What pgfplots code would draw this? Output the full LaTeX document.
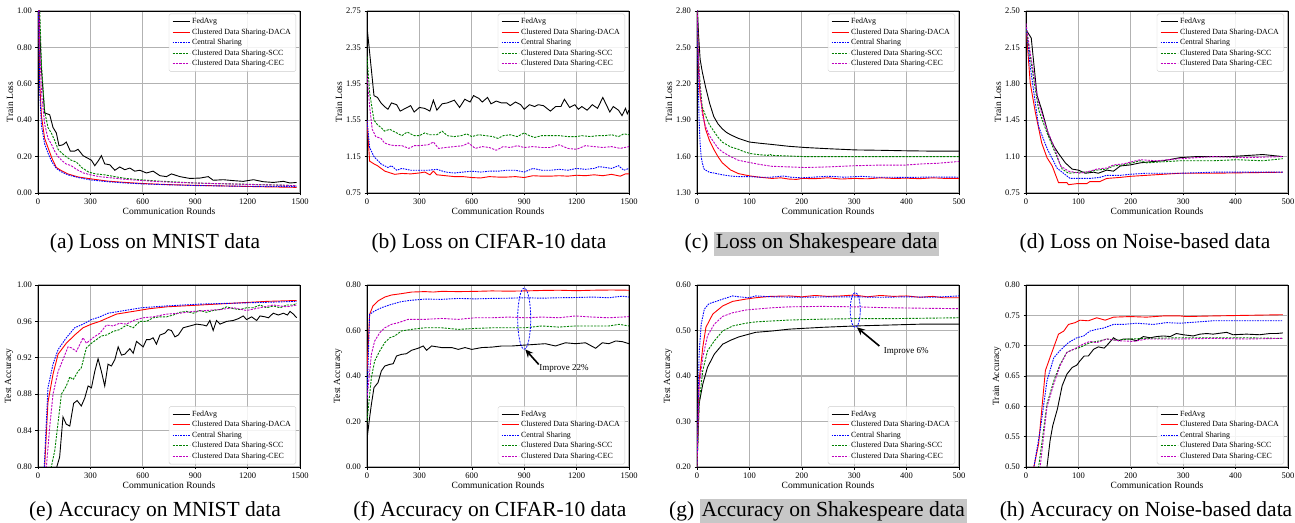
\documentclass[border=0pt]{standalone}
\usepackage{fontspec}
\setmainfont{Liberation Serif}
\usepackage{pgfplots}
\pgfplotsset{compat=1.18}
\usetikzlibrary{arrows.meta}
\definecolor{mplgreen}{RGB}{0,128,0}
\definecolor{mplmag}{RGB}{191,0,191}
\tikzset{
  sFed/.style={draw=black, line width=0.9pt},
  sDACA/.style={draw=red, line width=0.9pt},
  sCen/.style={draw=blue, line width=0.9pt, dash pattern=on 1.6pt off 1pt},
  sSCC/.style={draw=mplgreen, line width=0.9pt, dash pattern=on 2.2pt off 1.2pt},
  sCEC/.style={draw=mplmag, line width=0.9pt, dash pattern=on 2.2pt off 1.2pt},
}
\pgfplotsset{
  base/.style={scale only axis, width=262pt, height=182pt, no marks,
    grid=major, major grid style={draw=black!30, line width=1.1pt},
    axis line style={line width=0.7pt}, tick style={black, line width=0.6pt},
    tick align=outside, tick pos=left, major tick length=2.5pt,
    ticklabel style={font=\fontsize{8.5}{9}\selectfont},
    /pgf/number format/assume math mode=true,
    label style={font=\fontsize{9.5}{10}\selectfont},
    xlabel={Communication Rounds}, xlabel style={yshift=4pt}, ylabel style={yshift=-3pt},
    scaled ticks=false,
    xticklabel style={/pgf/number format/set thousands separator={}},
    yticklabel style={/pgf/number format/fixed, /pgf/number format/fixed zerofill, /pgf/number format/precision=2},
    legend cell align=left,
    legend image code/.code={\draw[#1, line width=1.1pt] (0pt,0pt) -- (17pt,0pt);},
    legend style={font=\fontsize{7.9}{8.5}\selectfont, draw=black!20, rounded corners=1.5pt, fill=white, fill opacity=0.85, text opacity=1, inner xsep=3pt, inner ysep=2.5pt, row sep=-0.6pt}},
  long/.style={xmin=0, xmax=1500, xtick={0,300,...,1500}},
  short/.style={xmin=0, xmax=500, xtick={0,100,...,500}},
  legTop/.style={legend style={at={(0.985,0.985)}, anchor=north east}},
  legBot/.style={legend style={at={(0.985,0.015)}, anchor=south east}},
}
\newcommand{\legs}{\legend{FedAvg, Clustered Data Sharing-DACA, Central Sharing, Clustered Data Sharing-SCC, Clustered Data Sharing-CEC}}
\begin{document}
\begin{tikzpicture}
\useasboundingbox (0,0) rectangle (1295pt,522pt);
% (a)
\begin{axis}[base, long, legTop, at={(38pt,329pt)}, anchor=south west, ymin=0, ymax=1, ytick={0,0.2,...,1.0}, ylabel={Train Loss}]
\addplot[sFed] coordinates {(0,1.4)(10,0.9)(19,0.69)(38,0.44)(67,0.43)(86,0.36)(105,0.33)(120,0.26)(143,0.265)(162,0.28)(185,0.23)(210,0.23)(229,0.24)(258,0.205)(287,0.19)(306,0.18)(325,0.15)(344,0.175)(363,0.205)(382,0.16)(411,0.155)(440,0.125)(468,0.143)(497,0.128)(526,0.137)(554,0.12)(583,0.125)(621,0.11)(659,0.12)(698,0.095)(736,0.09)(764,0.105)(812,0.09)(869,0.08)(927,0.082)(975,0.09)(1003,0.07)(1061,0.073)(1118,0.068)(1175,0.064)(1233,0.073)(1290,0.062)(1347,0.058)(1405,0.064)(1443,0.055)(1481,0.058)};
\addplot[sDACA] coordinates {(0,1.3)(10,0.6)(20,0.42)(38,0.3)(57,0.25)(80,0.19)(105,0.14)(130,0.125)(170,0.105)(230,0.088)(300,0.078)(400,0.065)(500,0.058)(600,0.052)(750,0.046)(900,0.042)(1100,0.038)(1300,0.034)(1480,0.031)};
\addplot[sCen] coordinates {(0,1.2)(10,0.55)(20,0.37)(38,0.27)(57,0.22)(80,0.17)(105,0.135)(130,0.118)(170,0.1)(230,0.085)(300,0.072)(400,0.062)(500,0.055)(600,0.05)(750,0.045)(900,0.041)(1100,0.038)(1300,0.036)(1480,0.035)};
\addplot[sSCC] coordinates {(0,1.5)(10,1.0)(20,0.7)(38,0.45)(57,0.36)(76,0.33)(95,0.29)(115,0.24)(135,0.22)(160,0.2)(190,0.18)(220,0.17)(250,0.14)(290,0.115)(330,0.105)(380,0.1)(440,0.09)(500,0.08)(560,0.075)(620,0.07)(700,0.065)(800,0.06)(900,0.055)(1000,0.052)(1100,0.05)(1200,0.048)(1300,0.045)(1400,0.043)(1480,0.04)};
\addplot[sCEC] coordinates {(0,1.4)(10,0.8)(20,0.55)(38,0.38)(57,0.3)(76,0.27)(95,0.23)(115,0.2)(135,0.18)(160,0.16)(190,0.15)(220,0.13)(240,0.12)(260,0.11)(300,0.1)(350,0.09)(400,0.085)(500,0.075)(600,0.068)(700,0.062)(800,0.058)(900,0.055)(1000,0.052)(1100,0.05)(1200,0.047)(1300,0.045)(1400,0.043)(1480,0.04)};
\legs
\end{axis}
% (b)
\begin{axis}[base, long, legTop, at={(367pt,329pt)}, anchor=south west, ymin=0.75, ymax=2.75, ytick={0.75,1.15,1.55,1.95,2.35,2.75}, ylabel={Train Loss}]
\addplot[sFed] coordinates {(0,2.58)(20,2.2)(40,1.82)(60,1.8)(80,1.74)(100,1.7)(120,1.67)(140,1.74)(170,1.72)(190,1.65)(220,1.68)(250,1.71)(270,1.64)(300,1.69)(330,1.68)(360,1.65)(380,1.77)(400,1.66)(430,1.73)(460,1.74)(500,1.77)(530,1.69)(560,1.78)(590,1.75)(610,1.82)(640,1.79)(660,1.75)(690,1.8)(710,1.73)(740,1.76)(770,1.74)(800,1.74)(820,1.71)(850,1.75)(880,1.72)(900,1.67)(930,1.72)(960,1.7)(980,1.72)(1010,1.71)(1050,1.65)(1080,1.7)(1110,1.7)(1130,1.78)(1160,1.69)(1190,1.72)(1210,1.67)(1230,1.7)(1260,1.66)(1290,1.72)(1320,1.68)(1350,1.8)(1370,1.72)(1390,1.64)(1410,1.7)(1440,1.66)(1460,1.6)(1480,1.68)(1490,1.62)(1500,1.66)};
\addplot[sDACA] coordinates {(0,1.55)(15,1.1)(40,1.07)(60,1.05)(102,0.99)(159,0.955)(200,0.965)(250,0.96)(300,0.97)(331,0.98)(360,0.95)(380,0.99)(400,0.95)(450,0.94)(500,0.93)(550,0.93)(600,0.92)(650,0.915)(700,0.93)(750,0.925)(800,0.925)(850,0.93)(900,0.92)(950,0.94)(1000,0.935)(1050,0.935)(1100,0.94)(1150,0.935)(1200,0.945)(1250,0.94)(1300,0.95)(1350,0.94)(1400,0.955)(1450,0.935)(1480,0.96)(1500,0.96)};
\addplot[sCen] coordinates {(0,1.55)(15,1.25)(40,1.15)(80,1.07)(120,1.03)(140,1.05)(170,1.0)(200,1.02)(250,1.0)(300,1.0)(350,1.0)(400,1.01)(450,0.98)(500,0.97)(550,0.98)(600,0.99)(650,0.98)(700,0.99)(750,0.99)(800,1.0)(850,1.0)(900,0.98)(950,1.02)(1000,1.0)(1050,1.0)(1100,1.01)(1150,1.0)(1200,1.02)(1250,1.01)(1300,1.02)(1330,1.04)(1400,1.02)(1440,1.05)(1470,1.0)(1500,1.02)};
\addplot[sSCC] coordinates {(0,2.25)(15,1.85)(40,1.55)(60,1.5)(80,1.47)(100,1.43)(130,1.45)(160,1.42)(200,1.38)(230,1.42)(270,1.38)(300,1.38)(330,1.41)(360,1.39)(400,1.39)(430,1.43)(460,1.38)(500,1.37)(540,1.38)(570,1.4)(600,1.37)(640,1.39)(680,1.38)(720,1.37)(750,1.35)(780,1.38)(820,1.39)(860,1.37)(900,1.41)(930,1.38)(960,1.36)(1000,1.38)(1050,1.38)(1100,1.38)(1150,1.37)(1200,1.37)(1230,1.38)(1280,1.37)(1320,1.38)(1360,1.38)(1400,1.39)(1440,1.37)(1470,1.4)(1500,1.39)};
\addplot[sCEC] coordinates {(0,2.05)(15,1.7)(30,1.45)(50,1.37)(80,1.35)(100,1.3)(130,1.28)(160,1.27)(200,1.27)(240,1.24)(270,1.27)(300,1.27)(350,1.28)(380,1.31)(410,1.24)(450,1.25)(500,1.26)(550,1.27)(580,1.3)(620,1.24)(660,1.26)(700,1.25)(740,1.22)(780,1.26)(820,1.25)(860,1.27)(900,1.25)(950,1.26)(1000,1.25)(1050,1.25)(1100,1.28)(1150,1.24)(1200,1.23)(1250,1.27)(1300,1.26)(1350,1.25)(1400,1.26)(1450,1.24)(1500,1.26)};
\legs
\end{axis}
% (c)
\begin{axis}[base, short, legTop, at={(697pt,329pt)}, anchor=south west, ymin=1.3, ymax=2.8, ytick={1.3,1.6,...,2.81}, ylabel={Train Loss}]
\addplot[sFed] coordinates {(0,2.9)(3,2.6)(6,2.4)(10,2.3)(16,2.18)(24,2.04)(32,1.93)(40,1.87)(48,1.83)(56,1.8)(64,1.78)(79,1.75)(100,1.72)(120,1.71)(143,1.70)(175,1.685)(206,1.675)(250,1.665)(302,1.655)(350,1.652)(397,1.648)(450,1.645)(500,1.645)};
\addplot[sDACA] coordinates {(0,2.85)(3,2.3)(6,2.1)(10,1.99)(16,1.83)(24,1.73)(32,1.66)(40,1.6)(48,1.55)(56,1.52)(64,1.49)(79,1.46)(90,1.45)(102,1.44)(120,1.43)(143,1.42)(160,1.425)(175,1.415)(190,1.412)(200,1.42)(225,1.418)(250,1.425)(275,1.415)(300,1.42)(325,1.417)(350,1.425)(375,1.42)(400,1.422)(425,1.418)(450,1.425)(475,1.42)(500,1.42)};
\addplot[sCen] coordinates {(0,2.85)(2,2.3)(4,1.9)(6,1.7)(8,1.6)(10,1.55)(13,1.5)(16,1.49)(24,1.47)(32,1.465)(48,1.45)(64,1.44)(79,1.435)(100,1.435)(120,1.43)(140,1.43)(165,1.44)(180,1.43)(200,1.425)(220,1.43)(250,1.438)(265,1.435)(280,1.43)(315,1.437)(340,1.43)(370,1.43)(400,1.428)(450,1.432)(500,1.43)};
\addplot[sSCC] coordinates {(0,2.85)(3,2.4)(6,2.2)(10,2.01)(16,1.94)(24,1.86)(32,1.81)(40,1.76)(48,1.72)(56,1.70)(64,1.68)(79,1.66)(90,1.64)(102,1.625)(120,1.615)(136,1.61)(139,1.62)(143,1.61)(175,1.605)(206,1.6)(250,1.6)(300,1.6)(400,1.6)(500,1.6)};
\addplot[sCEC] coordinates {(0,2.85)(3,2.4)(6,2.15)(10,1.95)(16,1.85)(24,1.77)(32,1.72)(40,1.67)(48,1.64)(64,1.6)(79,1.57)(90,1.56)(102,1.55)(120,1.535)(143,1.52)(175,1.515)(206,1.51)(250,1.515)(302,1.525)(350,1.53)(397,1.53)(430,1.54)(460,1.545)(500,1.56)};
\legs
\end{axis}
% (d)
\begin{axis}[base, short, legTop, at={(1026pt,329pt)}, anchor=south west, ymin=0.75, ymax=2.5, ytick={0.75,1.10,1.45,1.80,2.15,2.50}, ylabel={Train Loss}]
\addplot[sFed] coordinates {(0,2.32)(10,2.24)(21,1.69)(30,1.55)(43,1.31)(53,1.20)(62,1.13)(75,1.04)(88,0.98)(100,0.97)(113,0.94)(129,0.95)(138,0.94)(154,0.97)(167,0.96)(180,1.01)(199,1.02)(218,1.04)(237,1.05)(262,1.06)(294,1.09)(325,1.10)(357,1.10)(389,1.10)(421,1.11)(452,1.12)(490,1.10)};
\addplot[sDACA] coordinates {(0,2.35)(8,1.81)(18,1.52)(30,1.23)(40,1.09)(50,1.01)(62,0.85)(78,0.85)(81,0.83)(97,0.84)(116,0.84)(122,0.86)(141,0.86)(154,0.89)(180,0.90)(199,0.91)(230,0.92)(294,0.94)(357,0.94)(490,0.95)};
\addplot[sCen] coordinates {(0,2.35)(8,1.97)(24,1.39)(40,1.18)(59,0.99)(84,0.89)(103,0.89)(122,0.89)(141,0.90)(154,0.92)(180,0.92)(199,0.93)(230,0.94)(294,0.94)(357,0.95)(490,0.95)};
\addplot[sSCC] coordinates {(0,2.35)(8,2.06)(24,1.55)(40,1.33)(53,1.17)(69,0.98)(81,0.94)(103,0.95)(116,0.95)(135,0.97)(154,0.98)(167,1.01)(186,1.02)(218,1.06)(230,1.04)(262,1.05)(294,1.06)(325,1.06)(357,1.06)(402,1.07)(452,1.06)(490,1.08)};
\addplot[sCEC] coordinates {(0,2.38)(8,2.1)(24,1.61)(40,1.36)(53,1.20)(66,1.01)(81,0.96)(103,0.94)(122,0.96)(135,0.98)(154,0.99)(167,1.02)(186,1.03)(218,1.07)(249,1.06)(294,1.08)(357,1.10)(421,1.09)(490,1.10)};
\legs
\end{axis}
% (e)
\begin{axis}[base, long, legBot, at={(38pt,55pt)}, anchor=south west, ymin=0.8, ymax=1.0, ytick={0.80,0.84,...,1.01}, ylabel={Test Accuracy}]
\addplot[sFed] coordinates {(0,0.6)(50,0.75)(100,0.795)(124,0.811)(143,0.855)(162,0.847)(182,0.845)(204,0.870)(224,0.873)(248,0.867)(268,0.876)(287,0.889)(306,0.887)(325,0.905)(344,0.919)(363,0.905)(382,0.889)(401,0.913)(420,0.911)(440,0.918)(459,0.932)(478,0.923)(497,0.924)(526,0.930)(545,0.925)(564,0.938)(583,0.935)(602,0.932)(621,0.94)(640,0.94)(659,0.942)(678,0.935)(698,0.945)(726,0.947)(745,0.951)(764,0.950)(784,0.943)(803,0.945)(831,0.953)(870,0.955)(908,0.957)(946,0.956)(965,0.955)(984,0.961)(1003,0.950)(1022,0.961)(1042,0.957)(1080,0.960)(1118,0.961)(1147,0.963)(1175,0.966)(1194,0.962)(1223,0.965)(1252,0.961)(1271,0.966)(1300,0.965)(1319,0.964)(1347,0.969)(1376,0.967)(1405,0.969)(1428,0.967)(1443,0.971)(1462,0.968)(1481,0.964)};
\addplot[sDACA] coordinates {(0,0.5)(20,0.7)(38,0.80)(57,0.871)(86,0.902)(115,0.924)(162,0.936)(210,0.945)(258,0.953)(306,0.957)(354,0.96)(401,0.964)(449,0.968)(545,0.971)(640,0.974)(736,0.976)(831,0.977)(927,0.978)(1118,0.98)(1309,0.982)(1481,0.983)};
\addplot[sCen] coordinates {(0,0.5)(20,0.72)(38,0.81)(57,0.887)(86,0.913)(115,0.929)(162,0.942)(210,0.953)(258,0.957)(306,0.962)(354,0.965)(401,0.969)(497,0.972)(592,0.975)(736,0.977)(927,0.979)(1118,0.98)(1309,0.981)(1481,0.982)};
\addplot[sSCC] coordinates {(0,0.5)(60,0.77)(76,0.80)(96,0.818)(115,0.849)(134,0.88)(162,0.889)(182,0.899)(201,0.896)(229,0.905)(248,0.909)(277,0.931)(306,0.936)(335,0.94)(363,0.944)(392,0.945)(430,0.949)(468,0.951)(507,0.956)(545,0.953)(583,0.96)(621,0.96)(659,0.964)(698,0.965)(736,0.965)(774,0.967)(812,0.97)(850,0.971)(889,0.969)(927,0.972)(965,0.97)(1003,0.972)(1042,0.973)(1080,0.976)(1118,0.974)(1156,0.973)(1194,0.975)(1233,0.975)(1271,0.978)(1309,0.975)(1347,0.977)(1386,0.975)(1424,0.978)(1462,0.978)(1481,0.98)};
\addplot[sCEC] coordinates {(0,0.5)(35,0.75)(48,0.80)(67,0.844)(86,0.88)(115,0.905)(143,0.918)(172,0.932)(191,0.931)(220,0.927)(258,0.942)(277,0.936)(315,0.942)(354,0.947)(392,0.956)(430,0.955)(468,0.958)(507,0.957)(545,0.961)(602,0.964)(659,0.965)(736,0.968)(812,0.969)(889,0.971)(965,0.972)(1042,0.973)(1118,0.975)(1194,0.972)(1271,0.975)(1347,0.978)(1424,0.976)(1481,0.978)};
\legs
\end{axis}
% (f)
\begin{axis}[base, long, legBot, at={(367pt,55pt)}, anchor=south west, ymin=0, ymax=0.8, ytick={0,0.2,...,0.81}, ylabel={Test Accuracy}]
\addplot[sFed] coordinates {(0,0.122)(15,0.217)(25,0.275)(40,0.349)(63,0.371)(82,0.422)(102,0.444)(130,0.451)(150,0.454)(169,0.488)(197,0.495)(226,0.498)(255,0.513)(293,0.522)(322,0.532)(341,0.513)(370,0.532)(427,0.525)(485,0.525)(523,0.517)(561,0.525)(600,0.517)(657,0.525)(715,0.527)(772,0.532)(830,0.532)(906,0.536)(964,0.539)(1021,0.542)(1079,0.532)(1136,0.546)(1194,0.542)(1251,0.546)(1309,0.522)(1347,0.546)(1385,0.542)(1424,0.554)(1462,0.551)(1500,0.542)};
\addplot[sDACA] coordinates {(0,0.42)(15,0.671)(34,0.708)(63,0.73)(102,0.747)(140,0.756)(197,0.762)(255,0.769)(331,0.771)(380,0.769)(427,0.772)(523,0.771)(620,0.772)(715,0.774)(810,0.773)(906,0.774)(1000,0.776)(1098,0.777)(1200,0.775)(1290,0.777)(1400,0.778)(1500,0.777)};
\addplot[sCen] coordinates {(0,0.3)(15,0.671)(44,0.686)(82,0.70)(140,0.715)(197,0.727)(255,0.733)(331,0.738)(427,0.737)(523,0.741)(620,0.739)(715,0.741)(810,0.742)(906,0.744)(1000,0.742)(1098,0.744)(1200,0.745)(1290,0.747)(1385,0.744)(1462,0.751)(1500,0.747)};
\addplot[sSCC] coordinates {(0,0.2)(25,0.393)(44,0.466)(73,0.51)(102,0.547)(130,0.568)(159,0.576)(197,0.598)(255,0.605)(331,0.612)(427,0.612)(523,0.605)(619,0.609)(715,0.612)(811,0.612)(906,0.612)(1002,0.62)(1098,0.615)(1194,0.62)(1290,0.62)(1385,0.62)(1443,0.627)(1500,0.62)};
\addplot[sCEC] coordinates {(0,0.3)(25,0.495)(44,0.554)(73,0.59)(102,0.612)(140,0.627)(178,0.634)(236,0.649)(331,0.649)(427,0.653)(523,0.649)(619,0.656)(715,0.656)(811,0.659)(906,0.656)(1002,0.659)(1098,0.656)(1194,0.664)(1290,0.659)(1385,0.656)(1500,0.661)};
\draw[blue, line width=0.8pt, dash pattern=on 2pt off 1.2pt] (axis cs:900,0.652) ellipse [x radius=6.5pt, y radius=30.5pt];
\draw[-{Stealth[length=8pt,width=7pt]}, line width=1.6pt] (axis cs:983,0.451) -- (axis cs:906,0.517);
\node[anchor=west, font=\fontsize{9}{10}\selectfont] at (axis cs:967,0.432) {Improve 22\%};
\legs
\end{axis}
% (g)
\begin{axis}[base, short, legBot, at={(697pt,55pt)}, anchor=south west, ymin=0.2, ymax=0.6, ytick={0.2,0.3,...,0.61}, ylabel={Test Accuracy}]
\addplot[sFed] coordinates {(0,0.2)(4,0.339)(11,0.382)(20,0.419)(33,0.448)(49,0.47)(65,0.479)(80,0.486)(112,0.496)(144,0.499)(176,0.503)(239,0.507)(302,0.51)(366,0.512)(429,0.514)(500,0.514)};
\addplot[sDACA] coordinates {(0,0.2)(4,0.39)(11,0.463)(17,0.507)(30,0.536)(49,0.554)(68,0.564)(93,0.569)(112,0.572)(140,0.575)(176,0.576)(200,0.574)(225,0.577)(250,0.575)(275,0.576)(300,0.578)(325,0.574)(350,0.577)(375,0.575)(400,0.576)(425,0.573)(450,0.575)(470,0.572)(500,0.572)};
\addplot[sCen] coordinates {(0,0.2)(4,0.448)(8,0.514)(14,0.547)(23,0.559)(39,0.565)(49,0.569)(68,0.576)(80,0.574)(99,0.572)(112,0.576)(144,0.574)(200,0.573)(250,0.574)(300,0.574)(350,0.573)(400,0.574)(450,0.573)(500,0.576)};
\addplot[sSCC] coordinates {(0,0.2)(4,0.339)(11,0.412)(20,0.455)(33,0.477)(49,0.499)(68,0.51)(93,0.516)(112,0.519)(144,0.521)(176,0.523)(239,0.525)(302,0.526)(366,0.526)(500,0.528)};
\addplot[sCEC] coordinates {(0,0.2)(4,0.375)(11,0.441)(20,0.488)(33,0.514)(49,0.531)(68,0.539)(93,0.545)(112,0.547)(144,0.55)(176,0.552)(239,0.553)(302,0.552)(366,0.55)(429,0.549)(500,0.548)};
\draw[blue, line width=0.8pt, dash pattern=on 2pt off 1.2pt] (axis cs:302,0.545) ellipse [x radius=5pt, y radius=17.5pt];
\draw[-{Stealth[length=8pt,width=7pt]}, line width=1.6pt] (axis cs:348,0.466) -- (axis cs:305,0.507);
\node[anchor=west, font=\fontsize{9}{10}\selectfont] at (axis cs:350,0.455) {Improve 6\%};
\legs
\end{axis}
% (h)
\begin{axis}[base, short, legBot, at={(1026pt,55pt)}, anchor=south west, ymin=0.5, ymax=0.8, ytick={0.5,0.55,...,0.81}, ylabel={Train Accuracy}]
\addplot[sFed] coordinates {(30,0.45)(40,0.5)(46,0.544)(51,0.568)(60,0.596)(69,0.634)(78,0.653)(88,0.664)(97,0.668)(103,0.675)(111,0.683)(119,0.683)(129,0.694)(138,0.698)(149,0.696)(157,0.703)(167,0.713)(176,0.708)(186,0.711)(199,0.711)(211,0.708)(224,0.715)(237,0.713)(249,0.715)(262,0.716)(275,0.715)(287,0.72)(300,0.718)(319,0.716)(332,0.719)(345,0.72)(357,0.719)(383,0.722)(395,0.718)(421,0.719)(446,0.718)(465,0.72)(478,0.72)(490,0.721)};
\addplot[sDACA] coordinates {(5,0.42)(15,0.5)(24,0.538)(37,0.659)(46,0.681)(62,0.719)(72,0.724)(81,0.735)(94,0.738)(103,0.742)(119,0.741)(135,0.746)(151,0.742)(167,0.747)(199,0.748)(230,0.747)(262,0.749)(294,0.749)(306,0.748)(357,0.749)(421,0.75)(490,0.751)};
\addplot[sCen] coordinates {(5,0.42)(15,0.5)(27,0.56)(40,0.642)(53,0.68)(65,0.692)(81,0.705)(97,0.713)(110,0.716)(122,0.724)(135,0.727)(148,0.729)(167,0.735)(186,0.735)(211,0.737)(243,0.735)(268,0.738)(294,0.737)(326,0.739)(357,0.741)(421,0.741)(490,0.741)};
\addplot[sSCC] coordinates {(10,0.42)(24,0.5)(30,0.538)(40,0.604)(53,0.642)(65,0.669)(78,0.689)(91,0.694)(103,0.697)(122,0.705)(141,0.708)(154,0.711)(173,0.709)(199,0.711)(230,0.712)(294,0.713)(357,0.713)(421,0.713)(490,0.712)};
\addplot[sCEC] coordinates {(12,0.42)(27,0.5)(40,0.599)(53,0.637)(65,0.667)(78,0.689)(91,0.694)(110,0.703)(122,0.707)(135,0.705)(154,0.711)(180,0.708)(205,0.707)(218,0.709)(230,0.711)(294,0.711)(357,0.712)(421,0.711)(490,0.712)};
\legs
\end{axis}
% captions
\setlength{\fboxsep}{2pt}
\begin{scope}[every node/.style={anchor=base, inner sep=0pt, font=\fontsize{21.5}{24}\selectfont}]
\node at (155pt,273pt) {(a) Loss on MNIST data};
\node at (489pt,273pt) {(b) Loss on CIFAR-10 data};
\node at (812pt,273pt) {(c) \colorbox{black!22}{Loss on Shakespeare data}};
\node at (1145pt,273pt) {(d) Loss on Noise-based data};
\node at (155pt,6pt) {(e) Accuracy on MNIST data};
\node at (490pt,6pt) {(f) Accuracy on CIFAR-10 data};
\node at (818pt,6pt) {(g) \colorbox{black!22}{Accuracy on Shakespeare data}};
\node at (1146pt,6pt) {(h) Accuracy on Noise-based data};
\end{scope}
\end{tikzpicture}
\end{document}
